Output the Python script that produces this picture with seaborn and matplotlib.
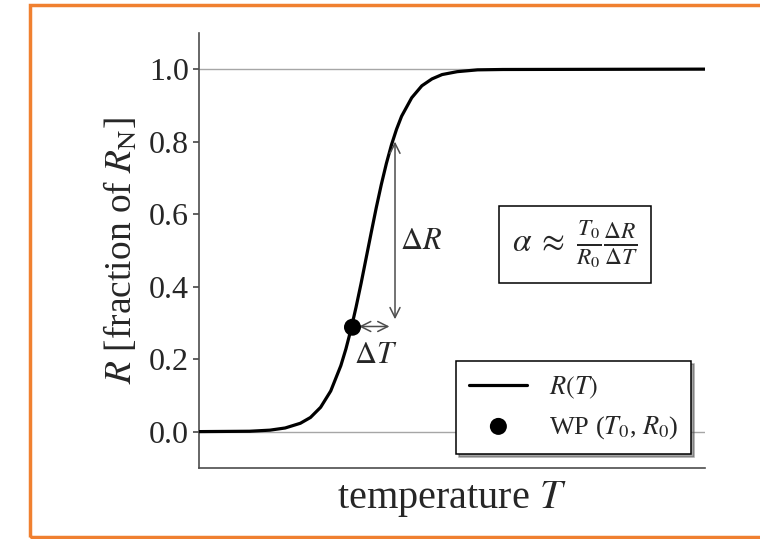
import numpy as np
import pandas as pd
import matplotlib
matplotlib.use("Agg")
import matplotlib.pyplot as plt
import seaborn as sns
from matplotlib.patches import Rectangle

# curve (arbitrary temperature units)
temp = [0.0, 1.0, 1.4, 1.7, 2.0, 2.2, 2.4, 2.6, 2.8, 2.9, 3.0, 3.1, 3.2,
        3.3, 3.4, 3.5, 3.6, 3.7, 3.8, 3.9, 4.0, 4.2, 4.4, 4.6, 4.8, 5.1,
        5.5, 6.0, 10.0]
resist = [0.0, 0.001, 0.004, 0.010, 0.023, 0.039, 0.067, 0.112, 0.182,
          0.228, 0.282, 0.343, 0.409, 0.479, 0.549, 0.618, 0.682, 0.740,
          0.791, 0.834, 0.870, 0.921, 0.954, 0.973, 0.985, 0.993, 0.998,
          0.999, 1.0]

T0, R0 = 3.03, 0.288
dR_arrow = (3.87, 0.80, 0.31)      # x, top, bottom
dT_arrow = (3.16, 3.76, 0.290)     # x start, x end, y

yticks = [0.0, 0.2, 0.4, 0.6, 0.8, 1.0]

df = pd.DataFrame({"T": temp, "R": resist})

sns.set_theme(style="ticks")
plt.rcParams["font.family"] = ["Liberation Serif", "DejaVu Serif"]
plt.rcParams["mathtext.fontset"] = "stix"

fig = plt.figure(figsize=(7.6, 5.39), dpi=100)
ax = fig.add_axes([0.262, 0.132, 0.666, 0.807])

ax.axhline(0, color="0.65", lw=1, zorder=1)
ax.axhline(1, color="0.65", lw=1, zorder=1)

sns.lineplot(data=df, x="T", y="R", color="black", lw=2.3,
             label="$R(T)$", ax=ax, zorder=3)
sns.scatterplot(x=[T0], y=[R0], color="black", s=150, edgecolor="none",
                label="WP ($T_0$, $R_0$)", ax=ax, zorder=4)

arrow_kw = dict(arrowstyle="<->", color="0.3", lw=1.1,
                shrinkA=0, shrinkB=0, mutation_scale=18)
ax.annotate("", xy=(dR_arrow[0], dR_arrow[1]), xytext=(dR_arrow[0], dR_arrow[2]),
            arrowprops=arrow_kw)
ax.annotate("", xy=(dT_arrow[1], dT_arrow[2]), xytext=(dT_arrow[0], dT_arrow[2]),
            arrowprops=arrow_kw)

ax.text(4.39, 0.525, r"$\Delta R$", fontsize=22, ha="center", va="center")
ax.text(3.48, 0.21, r"$\Delta T$", fontsize=22, ha="center", va="center")
ax.text(7.43, 0.517,
        r"$\alpha \;\approx\; \frac{T_0}{R_0}\frac{\Delta R}{\Delta T}$",
        fontsize=24, ha="center", va="center",
        bbox=dict(boxstyle="square,pad=0.38", fc="white", ec="black", lw=1.1))

ax.set_xlim(0, 10)
ax.set_ylim(-0.1, 1.1)
ax.set_xticks([])
ax.set_yticks(yticks)
ax.set_yticklabels([f"{v:.1f}" for v in yticks])
ax.tick_params(axis="y", labelsize=23, length=4, color="0.3", direction="out")
ax.set_xlabel("temperature $T$", fontsize=29, labelpad=8)
ax.set_ylabel("$R$ [fraction of $R_\\mathrm{N}$]", fontsize=27, labelpad=6)

sns.despine(ax=ax)
for s in ["left", "bottom"]:
    ax.spines[s].set_color("0.3")
    ax.spines[s].set_linewidth(1.2)

leg = ax.legend(loc="lower right", fontsize=19, frameon=True, fancybox=False,
                shadow=True, framealpha=1, edgecolor="black",
                handlelength=2.2, borderpad=0.5, labelspacing=0.5,
                borderaxespad=0, bbox_to_anchor=(0.972, 0.032))
leg.get_frame().set_linewidth(1.1)

fig.patches.append(Rectangle((0.039, 0.004), 1.2, 0.986, transform=fig.transFigure,
                             fill=False, ec="#F08030", lw=2.5, zorder=10))

fig.savefig("out.png", dpi=100)
